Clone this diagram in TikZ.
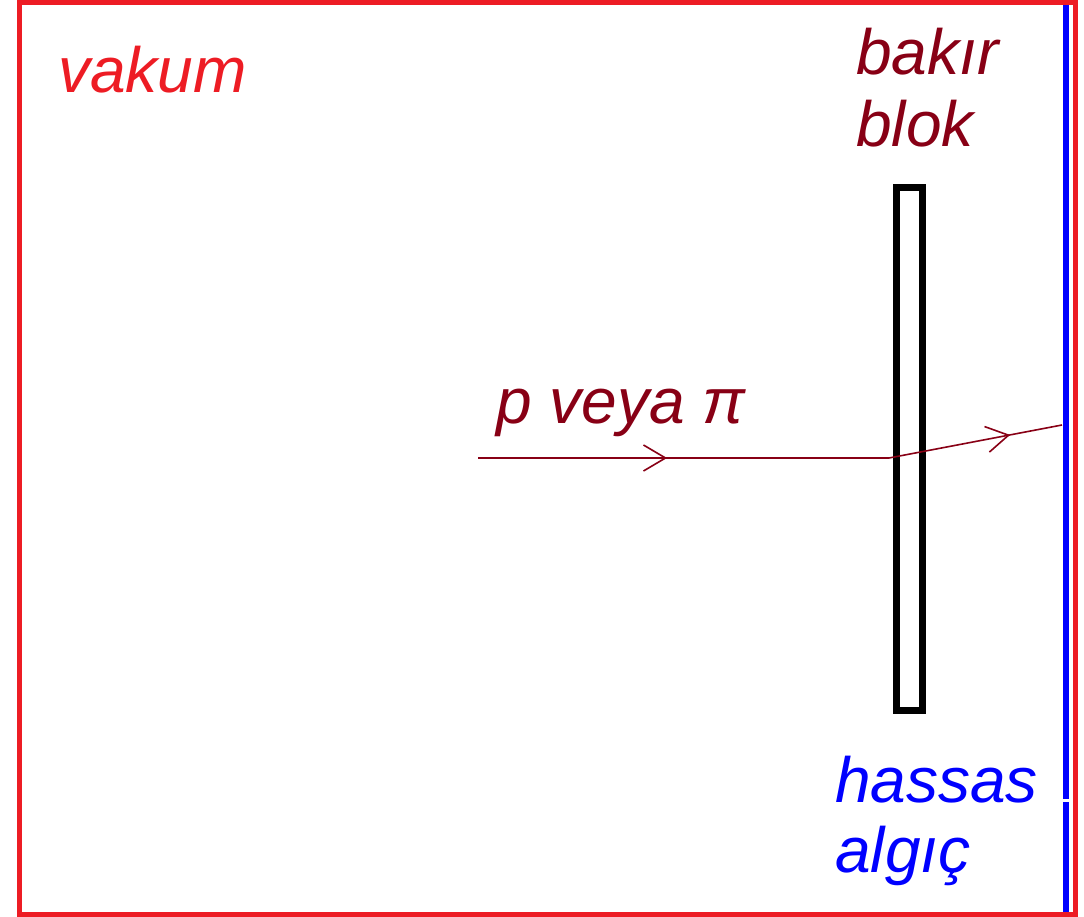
\documentclass[tikz,border=0pt]{standalone}
\usepackage{fontspec}
\setmainfont{Liberation Sans}
\usetikzlibrary{arrows.meta,decorations.markings}
\definecolor{framered}{RGB}{237,28,36}
\definecolor{darkred}{RGB}{136,0,21}
\definecolor{detblue}{RGB}{0,0,255}

\begin{document}
\begin{tikzpicture}[x=1pt,y=-1pt,
    lbl/.style={anchor=base west, inner sep=0pt, font=\fontsize{64}{72}\selectfont\itshape},
    beam/.style={darkred, line width=1.6pt},
    midarrow/.style={postaction={decorate}, decoration={markings,
        mark=at position #1 with {\arrow{Straight Barb[length=22pt,width=26pt,line width=1.6pt]}}}}]
    \useasboundingbox (0,0) rectangle (1084,917);

    % Detector (blue line, small gap near the bottom)
    \draw[detblue, line width=6pt] (1065.5,3) -- (1065.5,799);
    \draw[detblue, line width=6pt] (1065.5,802) -- (1065.5,912);

    % Vacuum frame
    \draw[framered, line width=5pt] (19.5,2.5) rectangle (1075.5,914.5);

    % Copper block
    \node[draw, line width=7pt, inner sep=0pt, minimum width=26pt, minimum height=523pt]
        (block) at (909.5,449) {};

    % Beam path
    \coordinate (source) at (478,458);
    \coordinate (hit) at (889,458);
    \coordinate (exit) at (1062,425);
    \draw[beam, midarrow=0.46] (source) -- (hit);
    \draw[beam, midarrow=0.70] (hit) -- (exit);

    % Labels
    \node[lbl, framered] (vakum) at (58,93) {vakum};
    \node[lbl, darkred] (bakir) at (856,75) {bakır};
    \node[lbl, darkred] (blok) at (856,147) {blok};
    \node[lbl, darkred] (particle) at (496,423) {p veya π};
    \node[lbl, detblue] (hassas) at (835,802) {hassas};
    \node[lbl, detblue] (algic) at (835,872) {algıç};
\end{tikzpicture}
\end{document}
